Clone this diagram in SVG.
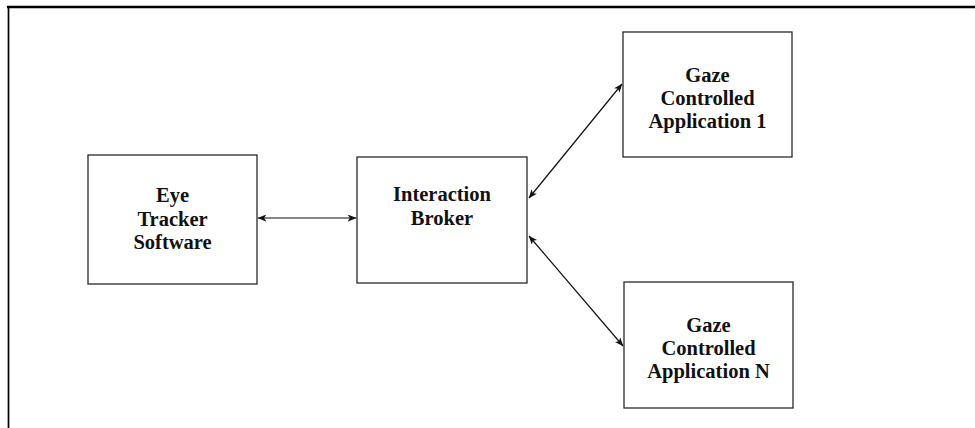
<svg xmlns="http://www.w3.org/2000/svg" width="975" height="428" viewBox="0 0 975 428">
<defs>
<style>
.box{fill:#fff;stroke:#2a2a2a;stroke-width:1.3}
.lbl{font-family:"Liberation Serif","Times New Roman",serif;font-weight:bold;font-size:20.5px;fill:#111;text-anchor:middle}
.con{stroke:#111;stroke-width:1.2;fill:none;marker-start:url(#ah);marker-end:url(#ah)}
</style>
<marker id="ah" viewBox="0 0 10 8" refX="9.5" refY="4" markerWidth="9" markerHeight="7" markerUnits="userSpaceOnUse" orient="auto-start-reverse">
<path d="M0,0 L10,4 L0,8 L2.5,4 z" fill="#111"/>
</marker>
</defs>
<rect width="975" height="428" fill="#fff"/>
<g id="frame">
<line x1="7" y1="7" x2="975" y2="7" stroke="#000" stroke-width="2.4"/>
<line x1="8.5" y1="6" x2="8.5" y2="428" stroke="#000" stroke-width="1.7"/>
</g>
<g id="connectors">
<line class="con" x1="258" y1="218" x2="356" y2="218"/>
<line class="con" x1="529" y1="198" x2="622" y2="84"/>
<line class="con" x1="529" y1="236" x2="623" y2="346"/>
</g>
<g id="eye-tracker">
<rect class="box" x="88" y="155" width="169" height="129"/>
<text class="lbl" x="172.5" y="202">Eye</text>
<text class="lbl" x="172.5" y="225.5">Tracker</text>
<text class="lbl" x="172.5" y="249">Software</text>
</g>
<g id="broker">
<rect class="box" x="357" y="157" width="170" height="126"/>
<text class="lbl" x="442" y="201">Interaction</text>
<text class="lbl" x="442" y="225">Broker</text>
</g>
<g id="app1">
<rect class="box" x="623" y="32" width="169" height="125"/>
<text class="lbl" x="707.5" y="82">Gaze</text>
<text class="lbl" x="707.5" y="105">Controlled</text>
<text class="lbl" x="707.5" y="128">Application 1</text>
</g>
<g id="appN">
<rect class="box" x="624" y="282" width="169" height="126"/>
<text class="lbl" x="708.5" y="332">Gaze</text>
<text class="lbl" x="708.5" y="355">Controlled</text>
<text class="lbl" x="708.5" y="378">Application N</text>
</g>
</svg>
